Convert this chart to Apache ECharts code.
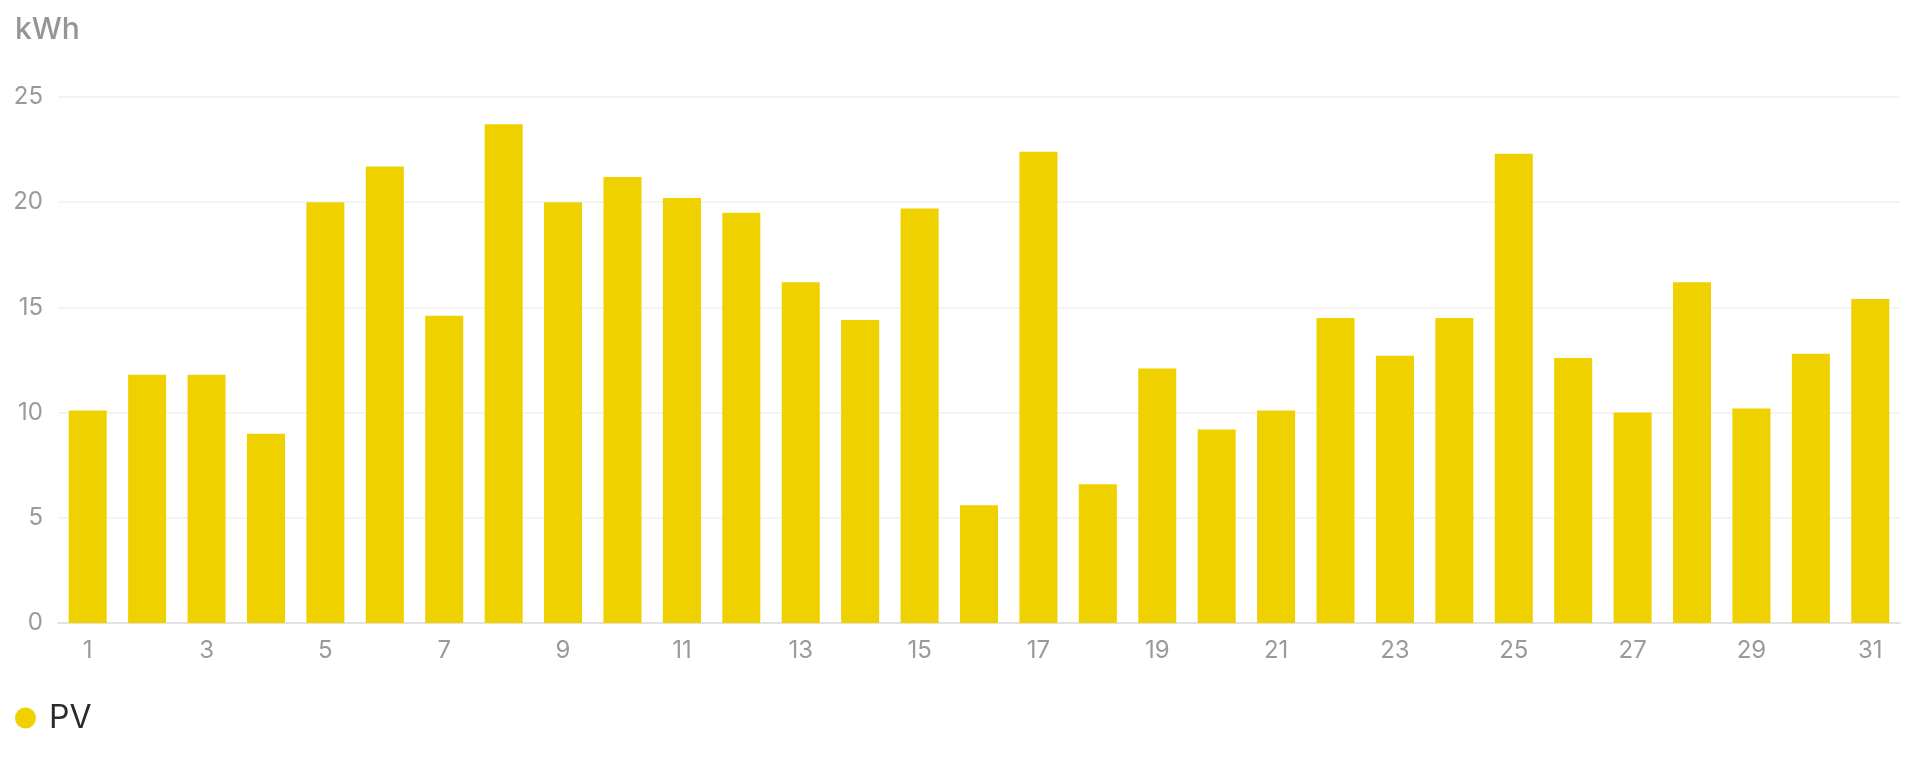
<!DOCTYPE html>
<html>
<head>
<meta charset="utf-8">
<script src="https://cdn.jsdelivr.net/npm/echarts@6/dist/echarts.min.js"></script>
<style>
html,body{margin:0;padding:0;background:#fff;}
#chart{width:1920px;height:765px;}
</style>
</head>
<body>
<div id="chart"></div>
<script>
const days = ['1','2','3','4','5','6','7','8','9','10','11','12','13','14','15','16','17','18','19','20','21','22','23','24','25','26','27','28','29','30','31'];
const pvValues = [10.1, 11.8, 11.8, 9.0, 20.0, 21.7, 14.6, 23.7, 20.0, 21.2, 20.2, 19.5, 16.2, 14.4, 19.7, 5.6, 22.4, 6.6, 12.1, 9.2, 10.1, 14.5, 12.7, 14.5, 22.3, 12.6, 10.0, 16.2, 10.2, 12.8, 15.4];
const seriesName = 'PV';
const unitLabel = 'kWh';

const FONT = 'Inter, Roboto, "Noto Sans", sans-serif';
const chart = echarts.init(document.getElementById('chart'));
chart.setOption({
  animation: false,
  title: {
    text: unitLabel,
    left: 10,
    top: 10,
    textStyle: { color: '#959595', fontSize: 30, fontWeight: 500, fontFamily: FONT }
  },
  legend: {
    left: 15,
    top: 702,
    padding: 0,
    icon: 'circle',
    itemWidth: 21,
    itemHeight: 21,
    textStyle: { color: '#2b2b2b', fontSize: 32, fontFamily: FONT, padding: [0, 0, 0, 8] },
    data: [seriesName]
  },
  grid: { left: 58, right: 20, top: 97, bottom: 142 },
  xAxis: {
    type: 'category',
    data: days,
    axisLine: { lineStyle: { color: '#dcdcdc', width: 1.5 } },
    axisTick: { show: false },
    axisLabel: { interval: 1, color: '#9a9a9a', fontSize: 24, fontFamily: FONT, margin: 16 }
  },
  yAxis: {
    type: 'value',
    min: 0,
    max: 25,
    interval: 5,
    axisLine: { show: false },
    axisTick: { show: false },
    axisLabel: { color: '#9a9a9a', fontSize: 24, fontFamily: FONT, margin: 15 },
    splitLine: { lineStyle: { color: '#f1f1f1', width: 1.5 } }
  },
  series: [{
    name: seriesName,
    type: 'bar',
    data: pvValues,
    barWidth: '64%',
    itemStyle: { color: '#EFD100' }
  }]
});
</script>
</body>
</html>
